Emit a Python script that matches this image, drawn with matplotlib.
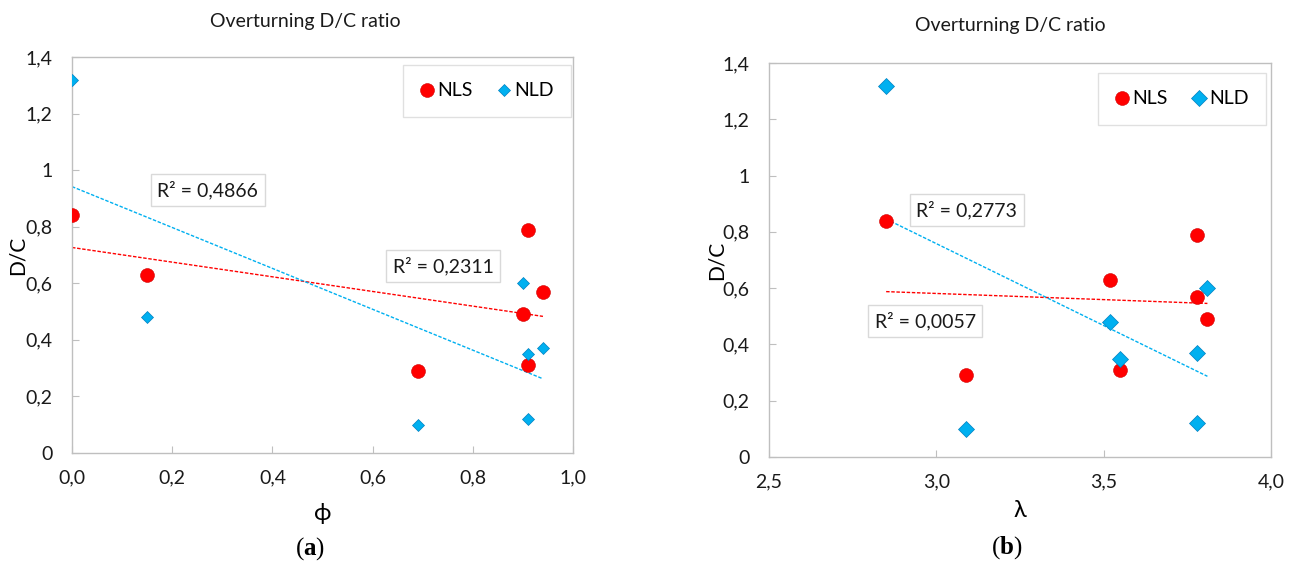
import numpy as np
import matplotlib
matplotlib.use('Agg')
import matplotlib.pyplot as plt
from matplotlib.ticker import FixedLocator, FixedFormatter

plt.rcParams['font.family'] = ['Lato', 'DejaVu Sans']
plt.rcParams['mathtext.fontset'] = 'custom'
plt.rcParams['mathtext.rm'] = 'Liberation Serif'
plt.rcParams['mathtext.bf'] = 'Liberation Serif:bold'

# data
phi = [0.0, 0.15, 0.69, 0.90, 0.91, 0.91, 0.94]
phi_nls = [0.84, 0.63, 0.29, 0.49, 0.79, 0.31, 0.57]
phi_nld = [1.32, 0.48, 0.10, 0.60, 0.12, 0.35, 0.37]

lam = [2.85, 3.52, 3.09, 3.81, 3.78, 3.55, 3.78]
lam_nls = [0.84, 0.63, 0.29, 0.49, 0.79, 0.31, 0.57]
lam_nld = [1.32, 0.48, 0.10, 0.60, 0.12, 0.35, 0.37]

r2_a = ['R² = 0,4866', 'R² = 0,2311']
r2_b = ['R² = 0,2773', 'R² = 0,0057']

y_ticks = [0, 0.2, 0.4, 0.6, 0.8, 1.0, 1.2, 1.4]
y_labels = ['0', '0,2', '0,4', '0,6', '0,8', '1', '1,2', '1,4']
xa_ticks = [0, 0.2, 0.4, 0.6, 0.8, 1.0]
xa_labels = ['0,0', '0,2', '0,4', '0,6', '0,8', '1,0']
xb_ticks = [2.5, 3.0, 3.5, 4.0]
xb_labels = ['2,5', '3,0', '3,5', '4,0']

RED = '#FF0000'
BLUE = '#00B0F0'
GRAY = '#BFBFBF'
TXT = '#1a1a1a'
FS = 14

W, H = 1294, 563
fig = plt.figure(figsize=(W / 100, H / 100), dpi=100)
ax1 = fig.add_axes([72 / W, 1 - 453 / H, 501 / W, 396 / H])
ax2 = fig.add_axes([769 / W, 1 - 457 / H, 502 / W, 394 / H])


def trend(ax, x, y, color):
    x = np.array(x)
    k, b = np.polyfit(x, y, 1)
    xs = np.array([x.min(), x.max()])
    ax.plot(xs, k * xs + b, color=color, lw=1.0, ls=(0, (2.5, 1.2)), zorder=2)


def style(ax, xt, xl, xlim):
    ax.set_xlim(xlim)
    ax.set_ylim(0, 1.4)
    ax.xaxis.set_major_locator(FixedLocator(xt))
    ax.xaxis.set_major_formatter(FixedFormatter(xl))
    ax.yaxis.set_major_locator(FixedLocator(y_ticks))
    ax.yaxis.set_major_formatter(FixedFormatter(y_labels))
    for s in ax.spines.values():
        s.set_color(GRAY)
        s.set_linewidth(1.0)
    ax.tick_params(direction='in', length=5, color=GRAY, labelsize=FS, pad=14,
                   labelcolor=TXT)
    ax.tick_params(axis='x', pad=12)


panels = [
    (ax1, phi, phi_nls, phi_nld, r2_a, [(0.271, 0.664), (0.741, 0.472)], 7.5,
     xa_ticks, xa_labels, (0, 1.0), 'ϕ', -0.154, -0.108, 0.996, 0.98),
    (ax2, lam, lam_nls, lam_nld, r2_b, [(0.394, 0.627), (0.311, 0.345)], 9.5,
     xb_ticks, xb_labels, (2.5, 4.0), 'λ', -0.135, -0.104, 0.990, 0.975),
]

for ax, x, nls, nld, r2, r2pos, dsize, xt, xl, xlim, xlab, xly, ylx, lx, ly in panels:
    ax.plot(x, nls, 'o', color=RED, mec='#D00000', mew=0.4, ms=10, label='NLS', zorder=3)
    ax.plot(x, nld, 'D', color=BLUE, mec='#0080C0', mew=0.5, ms=dsize * 0.85, label='NLD', zorder=3)
    trend(ax, x, nls, RED)
    trend(ax, x, nld, BLUE)
    for txt, (tx, ty) in zip(r2, r2pos):
        ax.text(tx, ty, txt, transform=ax.transAxes, ha='center', va='center',
                fontsize=FS, color=TXT,
                bbox=dict(boxstyle='square,pad=0.35', fc='white', ec='#D9D9D9', lw=1))
    style(ax, xt, xl, xlim)
    ax.set_xlabel(xlab, fontsize=17, va='center')
    ax.xaxis.set_label_coords(0.5, xly)
    ax.set_ylabel('D/C', fontsize=15, va='center')
    ax.yaxis.set_label_coords(ylx, 0.5)
    leg = ax.legend(loc='upper right', bbox_to_anchor=(lx, ly), ncol=2, fontsize=FS,
                    frameon=True, fancybox=False, borderpad=0.9, handlelength=0.7,
                    handletextpad=0.15, columnspacing=1.3, borderaxespad=0)
    leg.get_frame().set_edgecolor('#D9D9D9')
    leg.get_frame().set_linewidth(1.0)

fig.text(305 / W, 1 - 22 / H, 'Overturning D/C ratio', ha='center', va='center',
         fontsize=FS, color=TXT)
fig.text(1010 / W, 1 - 25 / H, 'Overturning D/C ratio', ha='center', va='center',
         fontsize=FS, color=TXT)
fig.text(310 / W, 1 - 549 / H, r'($\mathbf{a}$)', ha='center', va='center', fontsize=18,
         family=['Liberation Serif'])
fig.text(1007 / W, 1 - 548 / H, r'($\mathbf{b}$)', ha='center', va='center', fontsize=18,
         family=['Liberation Serif'])

fig.savefig('out.png', dpi=100)
